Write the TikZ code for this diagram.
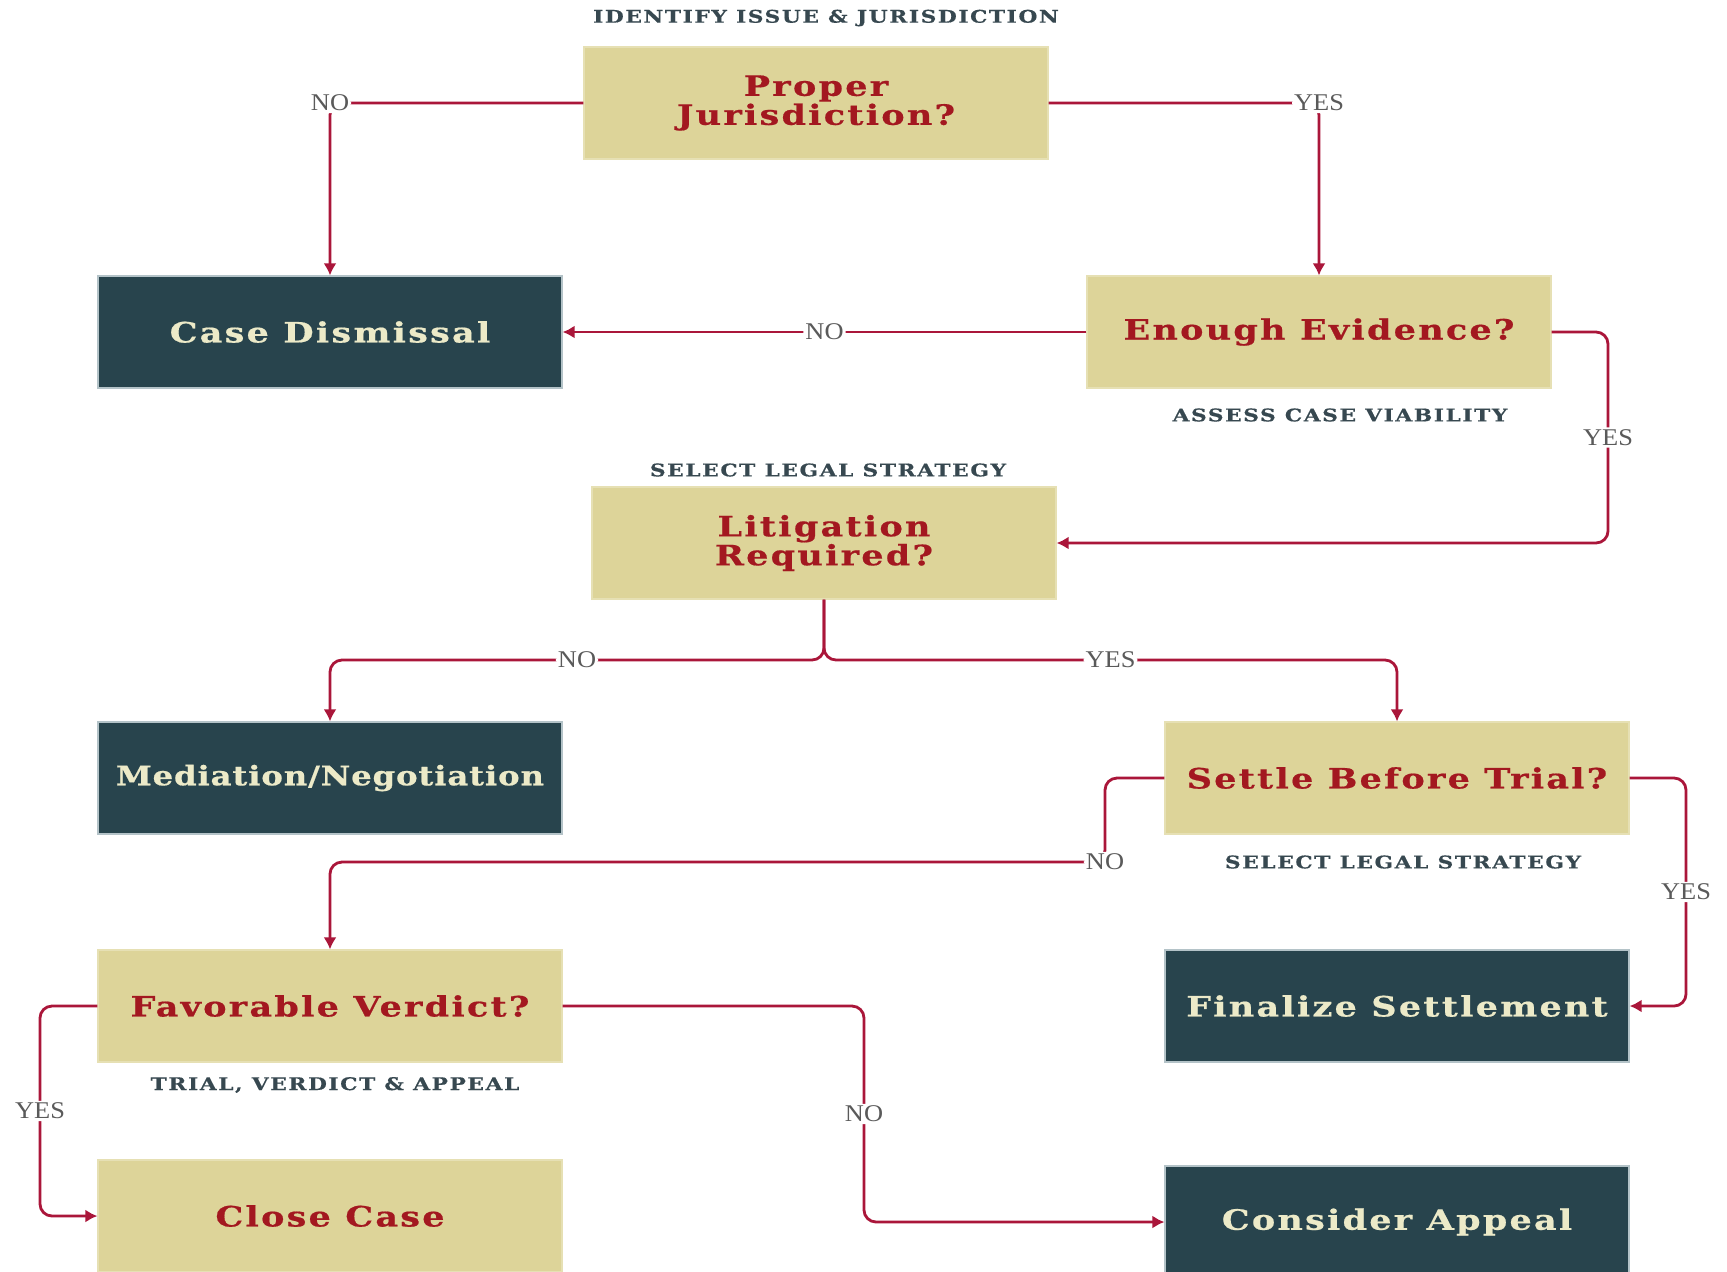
\documentclass[tikz,border=0pt]{standalone}
\usepackage{fontspec}
\setmainfont{DejaVu Serif}
\newfontfamily\boxfont[FakeStretch=1.25,LetterSpace=8,FakeBold=0.6]{DejaVu Serif}
\newfontfamily\medfont[FakeStretch=1.2,LetterSpace=3,FakeBold=0.6]{DejaVu Serif}
\newfontfamily\capfont[FakeStretch=1.25,LetterSpace=9,FakeBold=0.5]{DejaVu Serif}
\newfontfamily\lblfont[FakeStretch=1.1]{Liberation Serif}
\usetikzlibrary{arrows.meta}
\definecolor{tanc}{RGB}{221,212,153}
\definecolor{tanedge}{RGB}{230,224,180}
\definecolor{darkc}{RGB}{40,68,77}
\definecolor{darkedge}{RGB}{180,195,200}
\definecolor{redtxt}{RGB}{163,24,32}
\definecolor{creamtxt}{RGB}{236,234,200}
\definecolor{crim}{RGB}{170,22,58}
\definecolor{capc}{RGB}{55,72,80}
\definecolor{lblc}{RGB}{90,90,90}
\begin{document}
\begin{tikzpicture}[x=0.5pt,y=-0.5pt,
  basebox/.style={rectangle, line width=0.6pt, minimum width=232pt, minimum height=56pt,
    align=center, inner sep=0pt, font=\boxfont\bfseries\fontsize{14}{14.5}\selectfont},
  tanbox/.style={basebox, fill=tanc, draw=tanedge, text=redtxt},
  darkbox/.style={basebox, fill=darkc, draw=darkedge, text=creamtxt},
  captxt/.style={text=capc, inner sep=0pt, font=\capfont\bfseries\fontsize{8.7}{9}\selectfont},
  lbl/.style={fill=white, text=lblc, inner sep=1pt, font=\lblfont\fontsize{12}{12}\selectfont},
  conn/.style={draw=crim, line width=1.4pt, rounded corners=6pt, -{Latex[length=6pt,width=6.5pt]}}]
\useasboundingbox (0,0) rectangle (1727,1271);
\fill[white] (0,0) rectangle (1727,1271);

% boxes
\node[tanbox]  (pj)  at (816,103)  {Proper\\Jurisdiction?};
\node[darkbox] (cd)  at (330,332)  {Case Dismissal};
\node[tanbox]  (ee)  at (1319,332) {Enough Evidence?};
\node[tanbox]  (lit) at (824,543)  {Litigation\\Required?};
\node[darkbox, font=\medfont\bfseries\fontsize{13.5}{14}\selectfont] (med) at (330,778)  {Mediation/Negotiation};
\node[tanbox]  (sbt) at (1397,778) {Settle Before Trial?};
\node[tanbox]  (fv)  at (330,1006) {Favorable Verdict?};
\node[darkbox] (fs)  at (1397,1006) {Finalize Settlement};
\node[tanbox]  (cc)  at (330,1216) {Close Case};
\node[darkbox] (ca)  at (1397,1222) {Consider Appeal};

% captions
\node[captxt] (c1) at (826,18)   {IDENTIFY ISSUE \& JURISDICTION};
\node[captxt] (c2) at (1340,415) {ASSESS CASE VIABILITY};
\node[captxt] (c3) at (828,470)  {SELECT LEGAL STRATEGY};
\node[captxt] (c4) at (1403,862) {SELECT LEGAL STRATEGY};
\node[captxt] (c5) at (335,1085) {TRIAL, VERDICT \& APPEAL};

% bend coordinates
\coordinate (b1) at (824,660);
\coordinate (b2) at (1608,0);
\coordinate (b3) at (1105,862);
\coordinate (b4) at (1686,0);
\coordinate (b5) at (40,0);
\coordinate (b6) at (864,0);

% connectors
\draw[conn] (pj.west) -| node[lbl,pos=0.5]{NO} (cd.north);
\draw[conn] (pj.east) -| node[lbl,pos=0.5]{YES} (ee.north);
\draw[conn] (ee.west) -- node[lbl]{NO} (cd.east);
\draw[conn] (ee.east) -- (ee.east -| b2) |- node[lbl,pos=0.25]{YES} (lit.east);
\draw[conn] (lit.south) -- (b1) -| node[lbl,pos=0.25]{NO} (med.north);
\draw[conn] (lit.south) -- (b1) -| node[lbl,pos=0.25]{YES} (sbt.north);
\draw[conn] (sbt.west) -| (b3) node[lbl]{NO} -| (fv.north);
\draw[conn] (sbt.east) -- (sbt.east -| b4) |- node[lbl,pos=0.25]{YES} (fs.east);
\draw[conn] (fv.west) -- (fv.west -| b5) |- node[lbl,pos=0.25]{YES} (cc.west);
\draw[conn] (fv.east) -- (fv.east -| b6) |- node[lbl,pos=0.25]{NO} (ca.west);
\end{tikzpicture}
\end{document}
